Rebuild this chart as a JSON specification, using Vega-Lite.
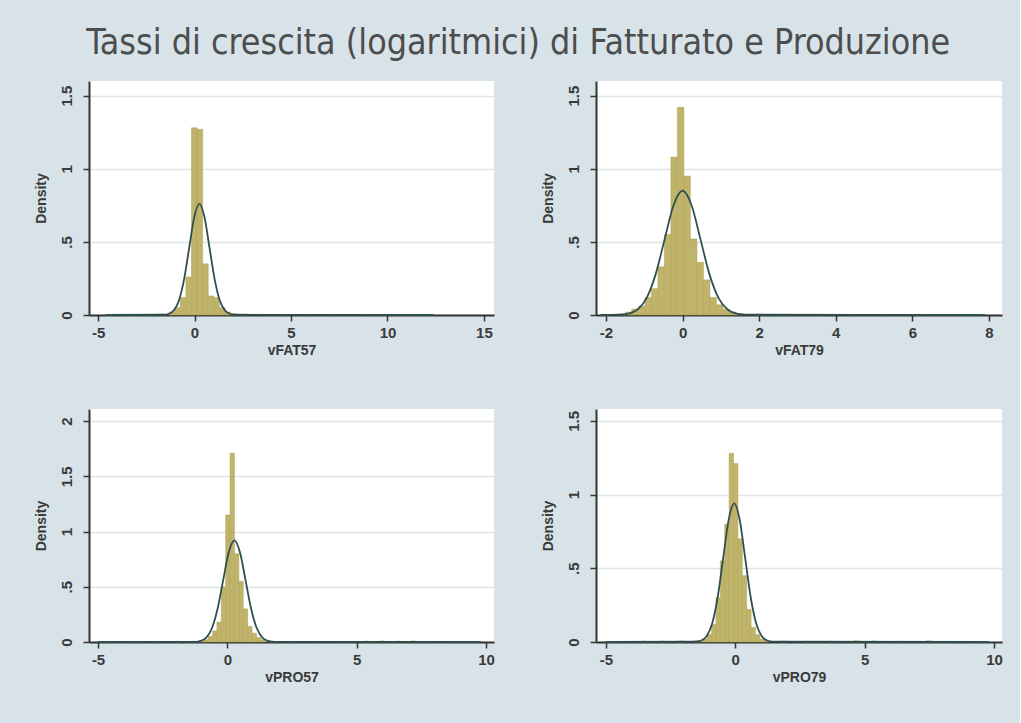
{
  "$schema": "https://vega.github.io/schema/vega-lite/v6.json",
  "background": "#d7e3e8",
  "padding": {"left": 34, "top": 25, "right": 17, "bottom": 40},
  "title": {"text": "Tassi di crescita (logaritmici) di Fatturato e Produzione", "font": "DejaVu Sans Condensed, sans-serif", "fontSize": 35.5, "fontWeight": "normal", "color": "#4d4d4d", "anchor": "middle", "offset": 20},
  "config": {
    "view": {"fill": "white", "stroke": null},
    "axis": {"domainColor": "#333333", "domainWidth": 2, "tickColor": "#333333", "tickWidth": 1.5, "tickSize": 6, "labelFont": "Liberation Sans, Arial, sans-serif", "labelFontSize": 15, "labelFontWeight": "bold", "labelColor": "#3a3a3a", "titleFont": "Liberation Sans, Arial, sans-serif", "titleFontSize": 14, "titleFontWeight": "bold", "titleColor": "#3a3a3a"},
    "axisX": {"grid": false, "labelPadding": 4, "titlePadding": 3, "labelFlush": false, "labelExpr": "replace(format(datum.value, '~g'), '\u2212', '-')"},
    "axisY": {"grid": true, "gridColor": "#dfe4e7", "gridWidth": 1.5, "labelAngle": -90, "labelPadding": 9, "titlePadding": 11, "labelExpr": "replace(format(datum.value, '~g'), '0.', '.')", "labelFlush": false}
  },
  "datasets": {
    "h1": [
      {"x0": -4.6, "x1": -4.31, "d": 0.004}, {"x0": -2.6, "x1": -2.31, "d": 0.004}, {"x0": -1.9, "x1": -1.61, "d": 0.006},
      {"x0": -1.32, "x1": -1.03, "d": 0.02}, {"x0": -1.03, "x1": -0.74, "d": 0.05}, {"x0": -0.74, "x1": -0.45, "d": 0.12},
      {"x0": -0.45, "x1": -0.16, "d": 0.26}, {"x0": -0.16, "x1": 0.13, "d": 1.28}, {"x0": 0.13, "x1": 0.42, "d": 1.27},
      {"x0": 0.42, "x1": 0.71, "d": 0.35}, {"x0": 0.71, "x1": 1.0, "d": 0.13}, {"x0": 1.0, "x1": 1.29, "d": 0.12},
      {"x0": 1.29, "x1": 1.58, "d": 0.05}, {"x0": 1.58, "x1": 1.87, "d": 0.02}, {"x0": 1.87, "x1": 2.16, "d": 0.01},
      {"x0": 2.45, "x1": 2.74, "d": 0.006}, {"x0": 3.3, "x1": 3.59, "d": 0.005}, {"x0": 4.5, "x1": 4.79, "d": 0.004},
      {"x0": 5.7, "x1": 5.99, "d": 0.004}, {"x0": 7.1, "x1": 7.39, "d": 0.004}, {"x0": 8.5, "x1": 8.79, "d": 0.005},
      {"x0": 9.8, "x1": 10.09, "d": 0.004}, {"x0": 11.4, "x1": 11.69, "d": 0.004}, {"x0": 12.1, "x1": 12.39, "d": 0.004}
    ],
    "n1": [
      {"x": -4.6, "y": 0}, {"x": -1.5875, "y": 0.0017}, {"x": -1.325, "y": 0.0084}, {"x": -1.0625, "y": 0.0334},
      {"x": -0.8, "y": 0.1028}, {"x": -0.5375, "y": 0.2468}, {"x": -0.275, "y": 0.4609}, {"x": -0.0125, "y": 0.6707},
      {"x": 0.25, "y": 0.76}, {"x": 0.5125, "y": 0.6707}, {"x": 0.775, "y": 0.4609}, {"x": 1.0375, "y": 0.2468},
      {"x": 1.3, "y": 0.1028}, {"x": 1.5625, "y": 0.0334}, {"x": 1.825, "y": 0.0084}, {"x": 2.0875, "y": 0.0017},
      {"x": 12.4, "y": 0}
    ],
    "h2": [
      {"x0": -2.1, "x1": -1.93, "d": 0.005}, {"x0": -1.665, "x1": -1.495, "d": 0.008},
      {"x0": -1.495, "x1": -1.325, "d": 0.02}, {"x0": -1.325, "x1": -1.155, "d": 0.04}, {"x0": -1.155, "x1": -0.985, "d": 0.06},
      {"x0": -0.985, "x1": -0.815, "d": 0.12}, {"x0": -0.815, "x1": -0.645, "d": 0.18}, {"x0": -0.645, "x1": -0.475, "d": 0.33},
      {"x0": -0.475, "x1": -0.305, "d": 0.55}, {"x0": -0.305, "x1": -0.135, "d": 1.08}, {"x0": -0.135, "x1": 0.035, "d": 1.42},
      {"x0": 0.035, "x1": 0.205, "d": 0.95}, {"x0": 0.205, "x1": 0.375, "d": 0.52}, {"x0": 0.375, "x1": 0.545, "d": 0.36},
      {"x0": 0.545, "x1": 0.715, "d": 0.24}, {"x0": 0.715, "x1": 0.885, "d": 0.12}, {"x0": 0.885, "x1": 1.055, "d": 0.07},
      {"x0": 1.055, "x1": 1.225, "d": 0.04}, {"x0": 1.225, "x1": 1.395, "d": 0.02}, {"x0": 1.395, "x1": 1.565, "d": 0.01},
      {"x0": 1.9, "x1": 2.07, "d": 0.006}, {"x0": 2.6, "x1": 2.77, "d": 0.005}, {"x0": 3.4, "x1": 3.57, "d": 0.005},
      {"x0": 4.3, "x1": 4.47, "d": 0.004}, {"x0": 5.2, "x1": 5.37, "d": 0.004}, {"x0": 6.1, "x1": 6.27, "d": 0.005},
      {"x0": 6.9, "x1": 7.07, "d": 0.004}, {"x0": 7.6, "x1": 7.77, "d": 0.005}
    ],
    "n2": [
      {"x": -2.15, "y": 0}, {"x": -1.645, "y": 0.0019}, {"x": -1.41, "y": 0.0094}, {"x": -1.175, "y": 0.0373},
      {"x": -0.94, "y": 0.115}, {"x": -0.705, "y": 0.276}, {"x": -0.47, "y": 0.5155}, {"x": -0.235, "y": 0.7501},
      {"x": 0, "y": 0.85}, {"x": 0.235, "y": 0.7501}, {"x": 0.47, "y": 0.5155}, {"x": 0.705, "y": 0.276},
      {"x": 0.94, "y": 0.115}, {"x": 1.175, "y": 0.0373}, {"x": 1.41, "y": 0.0094}, {"x": 1.645, "y": 0.0019},
      {"x": 7.9, "y": 0}
    ],
    "h3": [
      {"x0": -3.6, "x1": -3.43, "d": 0.006}, {"x0": -2.8, "x1": -2.63, "d": 0.006}, {"x0": -2.0, "x1": -1.83, "d": 0.007},
      {"x0": -1.4, "x1": -1.23, "d": 0.008}, {"x0": -1.085, "x1": -0.915, "d": 0.01}, {"x0": -0.915, "x1": -0.745, "d": 0.02},
      {"x0": -0.745, "x1": -0.575, "d": 0.05}, {"x0": -0.575, "x1": -0.405, "d": 0.1}, {"x0": -0.405, "x1": -0.235, "d": 0.18},
      {"x0": -0.235, "x1": -0.065, "d": 0.5}, {"x0": -0.065, "x1": 0.105, "d": 1.15}, {"x0": 0.105, "x1": 0.275, "d": 1.71},
      {"x0": 0.275, "x1": 0.445, "d": 0.8}, {"x0": 0.445, "x1": 0.615, "d": 0.55}, {"x0": 0.615, "x1": 0.785, "d": 0.3},
      {"x0": 0.785, "x1": 0.955, "d": 0.14}, {"x0": 0.955, "x1": 1.125, "d": 0.08}, {"x0": 1.125, "x1": 1.295, "d": 0.04},
      {"x0": 1.295, "x1": 1.465, "d": 0.02}, {"x0": 1.6, "x1": 1.77, "d": 0.01}, {"x0": 2.3, "x1": 2.47, "d": 0.006},
      {"x0": 3.2, "x1": 3.37, "d": 0.005}, {"x0": 4.4, "x1": 4.57, "d": 0.005}, {"x0": 5.3, "x1": 5.47, "d": 0.008},
      {"x0": 5.9, "x1": 6.07, "d": 0.01}, {"x0": 6.5, "x1": 6.67, "d": 0.008}, {"x0": 7.1, "x1": 7.27, "d": 0.01},
      {"x0": 7.5, "x1": 7.67, "d": 0.006}
    ],
    "n3": [
      {"x": -5.0, "y": 0}, {"x": -1.249, "y": 0.002}, {"x": -1.032, "y": 0.0102}, {"x": -0.815, "y": 0.0404},
      {"x": -0.598, "y": 0.1245}, {"x": -0.381, "y": 0.2987}, {"x": -0.164, "y": 0.558}, {"x": 0.053, "y": 0.8119},
      {"x": 0.27, "y": 0.92}, {"x": 0.487, "y": 0.8119}, {"x": 0.704, "y": 0.558}, {"x": 0.921, "y": 0.2987},
      {"x": 1.138, "y": 0.1245}, {"x": 1.355, "y": 0.0404}, {"x": 1.572, "y": 0.0102}, {"x": 1.789, "y": 0.002},
      {"x": 9.8, "y": 0}
    ],
    "h4": [
      {"x0": -3.6, "x1": -3.43, "d": 0.006}, {"x0": -2.9, "x1": -2.73, "d": 0.006}, {"x0": -2.2, "x1": -2.03, "d": 0.007},
      {"x0": -1.6, "x1": -1.43, "d": 0.008},
      {"x0": -1.425, "x1": -1.255, "d": 0.01}, {"x0": -1.255, "x1": -1.085, "d": 0.02}, {"x0": -1.085, "x1": -0.915, "d": 0.05},
      {"x0": -0.915, "x1": -0.745, "d": 0.12}, {"x0": -0.745, "x1": -0.575, "d": 0.3}, {"x0": -0.575, "x1": -0.405, "d": 0.55},
      {"x0": -0.405, "x1": -0.235, "d": 0.8}, {"x0": -0.235, "x1": -0.065, "d": 1.28}, {"x0": -0.065, "x1": 0.105, "d": 1.21},
      {"x0": 0.105, "x1": 0.275, "d": 0.7}, {"x0": 0.275, "x1": 0.445, "d": 0.45}, {"x0": 0.445, "x1": 0.615, "d": 0.22},
      {"x0": 0.615, "x1": 0.785, "d": 0.1}, {"x0": 0.785, "x1": 0.955, "d": 0.05}, {"x0": 0.955, "x1": 1.125, "d": 0.02},
      {"x0": 1.125, "x1": 1.295, "d": 0.01}, {"x0": 1.8, "x1": 1.97, "d": 0.006}, {"x0": 2.7, "x1": 2.87, "d": 0.005},
      {"x0": 3.6, "x1": 3.77, "d": 0.005}, {"x0": 4.6, "x1": 4.77, "d": 0.008}, {"x0": 5.3, "x1": 5.47, "d": 0.007},
      {"x0": 6.4, "x1": 6.57, "d": 0.005}, {"x0": 7.4, "x1": 7.57, "d": 0.008}
    ],
    "n4": [
      {"x": -5.0, "y": 0}, {"x": -1.524, "y": 0.0021}, {"x": -1.312, "y": 0.0104}, {"x": -1.1, "y": 0.0413},
      {"x": -0.888, "y": 0.1272}, {"x": -0.676, "y": 0.3052}, {"x": -0.464, "y": 0.5701}, {"x": -0.252, "y": 0.8296},
      {"x": -0.04, "y": 0.94}, {"x": 0.172, "y": 0.8296}, {"x": 0.384, "y": 0.5701}, {"x": 0.596, "y": 0.3052},
      {"x": 0.808, "y": 0.1272}, {"x": 1.02, "y": 0.0413}, {"x": 1.232, "y": 0.0104}, {"x": 1.444, "y": 0.0021},
      {"x": 9.8, "y": 0}
    ]
  },
  "columns": 2,
  "spacing": {"row": 94, "column": 102},
  "bounds": "flush",
  "concat": [
    {
      "width": 405, "height": 234,
      "layer": [
        {"data": {"name": "h1"}, "mark": {"type": "bar", "color": "#c0b46a", "stroke": "#aea257", "strokeWidth": 0.5},
         "encoding": {
           "x": {"field": "x0", "type": "quantitative", "title": "vFAT57", "scale": {"domain": [-5.47, 15.52], "nice": false, "zero": false}, "axis": {"values": [-5, 0, 5, 10, 15]}},
           "x2": {"field": "x1"},
           "y": {"field": "d", "type": "quantitative", "title": "Density", "scale": {"domain": [0, 1.6], "nice": false}, "axis": {"values": [0, 0.5, 1, 1.5]}},
           "y2": {"datum": 0}}},
        {"data": {"name": "n1"}, "mark": {"type": "line", "color": "#2f4f50", "strokeWidth": 1.8, "interpolate": "monotone"},
         "encoding": {
           "x": {"field": "x", "type": "quantitative", "title": "vFAT57"},
           "y": {"field": "y", "type": "quantitative", "title": "Density"}}}
      ]
    },
    {
      "width": 406, "height": 234,
      "layer": [
        {"data": {"name": "h2"}, "mark": {"type": "bar", "color": "#c0b46a", "stroke": "#aea257", "strokeWidth": 0.5},
         "encoding": {
           "x": {"field": "x0", "type": "quantitative", "title": "vFAT79", "scale": {"domain": [-2.26, 8.34], "nice": false, "zero": false}, "axis": {"values": [-2, 0, 2, 4, 6, 8]}},
           "x2": {"field": "x1"},
           "y": {"field": "d", "type": "quantitative", "title": "Density", "scale": {"domain": [0, 1.6], "nice": false}, "axis": {"values": [0, 0.5, 1, 1.5]}},
           "y2": {"datum": 0}}},
        {"data": {"name": "n2"}, "mark": {"type": "line", "color": "#2f4f50", "strokeWidth": 1.8, "interpolate": "monotone"},
         "encoding": {
           "x": {"field": "x", "type": "quantitative", "title": "vFAT79"},
           "y": {"field": "y", "type": "quantitative", "title": "Density"}}}
      ]
    },
    {
      "width": 405, "height": 233,
      "layer": [
        {"data": {"name": "h3"}, "mark": {"type": "bar", "color": "#c0b46a", "stroke": "#aea257", "strokeWidth": 0.5},
         "encoding": {
           "x": {"field": "x0", "type": "quantitative", "title": "vPRO57", "scale": {"domain": [-5.35, 10.31], "nice": false, "zero": false}, "axis": {"values": [-5, 0, 5, 10]}},
           "x2": {"field": "x1"},
           "y": {"field": "d", "type": "quantitative", "title": "Density", "scale": {"domain": [0, 2.11], "nice": false}, "axis": {"values": [0, 0.5, 1, 1.5, 2]}},
           "y2": {"datum": 0}}},
        {"data": {"name": "n3"}, "mark": {"type": "line", "color": "#2f4f50", "strokeWidth": 1.8, "interpolate": "monotone"},
         "encoding": {
           "x": {"field": "x", "type": "quantitative", "title": "vPRO57"},
           "y": {"field": "y", "type": "quantitative", "title": "Density"}}}
      ]
    },
    {
      "width": 406, "height": 233,
      "layer": [
        {"data": {"name": "h4"}, "mark": {"type": "bar", "color": "#c0b46a", "stroke": "#aea257", "strokeWidth": 0.5},
         "encoding": {
           "x": {"field": "x0", "type": "quantitative", "title": "vPRO79", "scale": {"domain": [-5.38, 10.31], "nice": false, "zero": false}, "axis": {"values": [-5, 0, 5, 10]}},
           "x2": {"field": "x1"},
           "y": {"field": "d", "type": "quantitative", "title": "Density", "scale": {"domain": [0, 1.58], "nice": false}, "axis": {"values": [0, 0.5, 1, 1.5]}},
           "y2": {"datum": 0}}},
        {"data": {"name": "n4"}, "mark": {"type": "line", "color": "#2f4f50", "strokeWidth": 1.8, "interpolate": "monotone"},
         "encoding": {
           "x": {"field": "x", "type": "quantitative", "title": "vPRO79"},
           "y": {"field": "y", "type": "quantitative", "title": "Density"}}}
      ]
    }
  ]
}
